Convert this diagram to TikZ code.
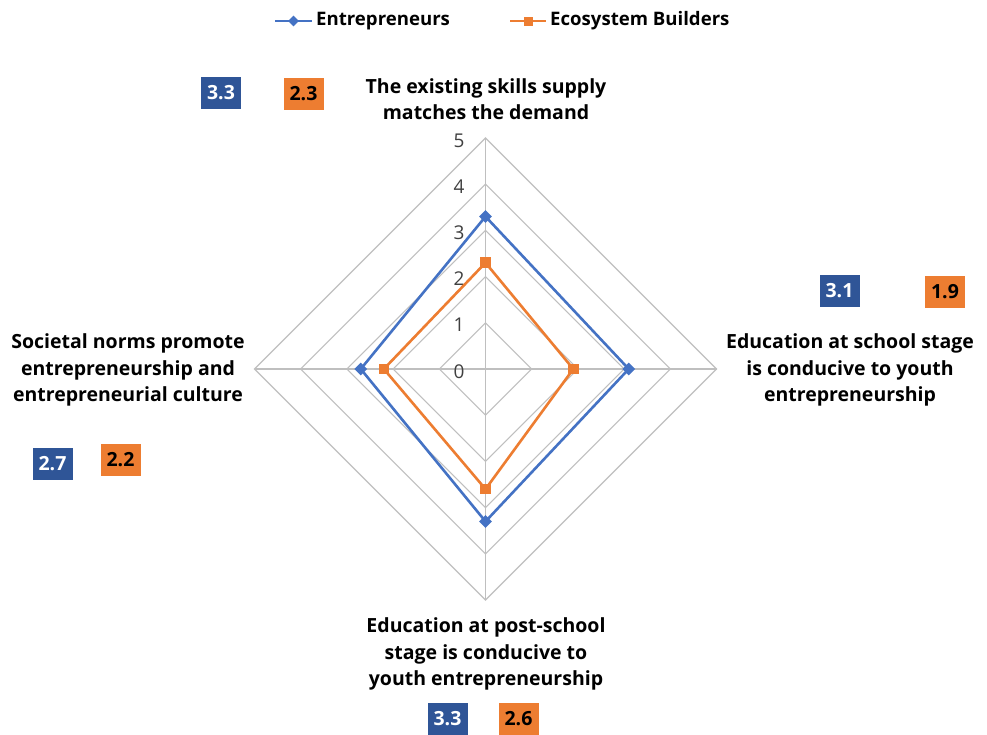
\documentclass[tikz,border=0pt]{standalone}
\usepackage{fontspec}
\setmainfont{Open Sans}
\usetikzlibrary{shapes.geometric}
\definecolor{serA}{HTML}{4472C4}
\definecolor{serB}{HTML}{ED7D31}
\definecolor{boxA}{HTML}{2F5597}
\definecolor{gridc}{HTML}{BFBFBF}
\tikzset{
  grid/.style={draw=gridc, line width=1.1pt},
  lineA/.style={draw=serA, line width=2.6pt, line join=round},
  lineB/.style={draw=serB, line width=2.6pt, line join=round},
  markA/.style={diamond, fill=serA, inner sep=0pt, minimum size=13pt},
  markB/.style={rectangle, fill=serB, inner sep=0pt, minimum size=10.5pt},
  axlab/.style={align=center, font=\bfseries\fontsize{19.5}{26.5}\selectfont, inner sep=0pt},
  tick/.style={anchor=east, inner sep=0pt, font=\fontsize{19}{20}\selectfont, text=black!75},
  valbox/.style={minimum width=40pt, minimum height=32pt, inner sep=0pt, font=\bfseries\fontsize{19.5}{20}\selectfont},
  vA/.style={valbox, fill=boxA, text=white},
  vB/.style={valbox, fill=serB, text=black},
  legtext/.style={anchor=west, inner sep=0pt, font=\bfseries\fontsize{18.6}{20}\selectfont},
}
\begin{document}
\begin{tikzpicture}[x=1pt, y=-1pt]
\useasboundingbox (0,0) rectangle (987,734);
\fill[white] (0,0) rectangle (987,734);
% legend
\coordinate (lgA1) at (275,21); \coordinate (lgA2) at (312,21);
\coordinate (lgB1) at (510,21); \coordinate (lgB2) at (546,21);
\draw[lineA, line width=2.2pt] (lgA1) -- (lgA2);
\node[markA, minimum size=11pt] (lgAm) at (293.5,21) {};
\node[legtext] (lgAt) at (316,21) {Entrepreneurs};
\draw[lineB, line width=2.2pt] (lgB1) -- (lgB2);
\node[markB, minimum size=9pt] (lgBm) at (528,21) {};
\node[legtext] (lgBt) at (550,21) {Ecosystem Builders};
% radar
\begin{scope}[shift={(485.5,369)}, x=46.2pt, y=46.2pt]
  \foreach \r in {1,...,5}
    \draw[grid] (0,\r) -- (\r,0) -- (0,-\r) -- (-\r,0) -- cycle;
  \draw[grid] (0,5) -- (0,-5);
  \draw[grid] (-5,0) -- (5,0);
  \foreach \r in {0,...,5}
    \node[tick] (t\r) at (-0.45,\r-0.05) {\r};
  \coordinate (a1) at (0,3.3); \coordinate (a2) at (3.1,0);
  \coordinate (a3) at (0,-3.3); \coordinate (a4) at (-2.7,0);
  \coordinate (b1) at (0,2.3); \coordinate (b2) at (1.9,0);
  \coordinate (b3) at (0,-2.6); \coordinate (b4) at (-2.2,0);
  \draw[lineA] (a1) -- (a2) -- (a3) -- (a4) -- cycle;
  \draw[lineB] (b1) -- (b2) -- (b3) -- (b4) -- cycle;
  \foreach \i in {1,...,4} {
    \node[markA] (ma\i) at (a\i) {};
    \node[markB] (mb\i) at (b\i) {};
  }
\end{scope}
% axis labels
\node[axlab] (labT) at (486,99) {The existing skills supply\\matches the demand};
\node[axlab] (labR) at (850,370) {Education at school stage\\is conducive to youth\\entrepreneurship};
\node[axlab] (labB) at (486,654) {Education at post-school\\stage is conducive to\\youth entrepreneurship};
\node[axlab] (labL) at (128,370) {Societal norms promote\\entrepreneurship and\\entrepreneurial culture};
% value boxes
\node[vA] (vT1) at (221,93) {3.3};
\node[vB] (vT2) at (303.5,93.5) {2.3};
\node[vA] (vR1) at (839.5,291) {3.1};
\node[vB] (vR2) at (945,291.5) {1.9};
\node[vA] (vL1) at (52.5,463.5) {2.7};
\node[vB] (vL2) at (120.5,460) {2.2};
\node[vA] (vB1) at (447.5,719) {3.3};
\node[vB] (vB2) at (518.5,719) {2.6};
\end{tikzpicture}
\end{document}
